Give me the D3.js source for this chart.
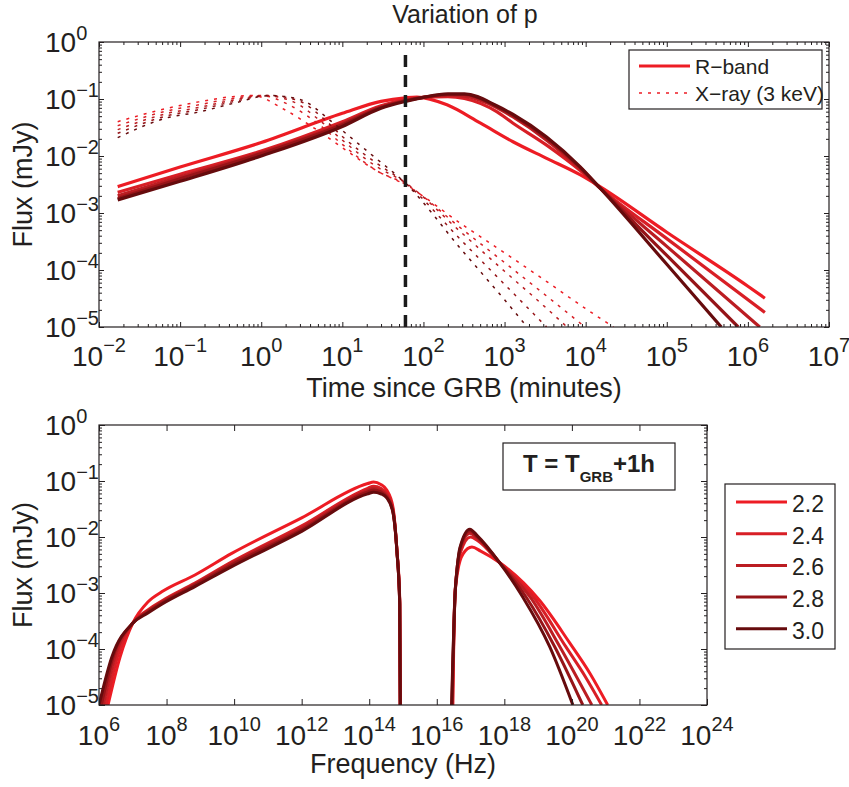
<!DOCTYPE html>
<html><head><meta charset="utf-8">
<script src="https://cdn.jsdelivr.net/npm/d3@7"></script>
<style>
body{margin:0;background:#fff}
svg{display:block}
text{font-family:"Liberation Sans",Arial,Helvetica,sans-serif;fill:#231f20}
</style>
</head><body>
<svg id="chart" width="849" height="787"></svg>
<script>
// ---------------- DATA ----------------
const pLabels = ["2.2", "2.4", "2.6", "2.8", "3.0"];
const lineColors = ["#ed1c24", "#d81f26", "#bb1d22", "#961418", "#660b0d"];

const timeTickExp = [-2, -1, 0, 1, 2, 3, 4, 5, 6, 7];
const fluxTickExp = [0, -1, -2, -3, -4, -5];
const freqTickExp = [6, 8, 10, 12, 14, 16, 18, 20, 22, 24];
const markTime = 60;          // T_GRB + 1h, in minutes
const markFluxRange = [1e-5, 0.65];

// R-band light curves [time (min), flux (mJy)]
const rband22 = [[0.017,2.9e-3],[0.1,6.4e-3],[1,1.72e-2],[10,5.6e-2],[30,9.1e-2],[60,0.105],[83,0.108],[195,7.9e-2],[500,3.8e-2],[1270,1.78e-2],[3300,9.1e-3],[8500,4.7e-3],[15000,2.9e-3],[1e5,4.6e-4],[1e6,5.2e-5],[1.62e6,3.2e-5]];
const rband24 = [[0.017,2.3e-3],[0.1,4.8e-3],[1,1.22e-2],[10,4.0e-2],[30,7.6e-2],[60,9.8e-2],[100,0.107],[200,0.110],[320,0.102],[800,6.0e-2],[1260,3.8e-2],[3300,1.55e-2],[8500,5.6e-3],[15000,2.75e-3],[1e5,3.55e-4],[1.62e6,1.8e-5]];
const rband26 = [[0.017,2.0e-3],[0.1,4.3e-3],[1,1.15e-2],[10,3.7e-2],[30,7.2e-2],[60,9.5e-2],[100,0.107],[200,0.117],[320,0.112],[800,7.1e-2],[1260,4.9e-2],[3300,1.9e-2],[8500,6.0e-3],[15000,2.75e-3],[1e5,2.6e-4],[1.4e6,1e-5]];
const rband28 = [[0.017,1.8e-3],[0.1,4.0e-3],[1,1.1e-2],[10,3.55e-2],[30,7.1e-2],[60,9.3e-2],[100,0.107],[200,0.120],[320,0.120],[800,7.4e-2],[1260,5.2e-2],[3300,2.05e-2],[8500,6.3e-3],[15000,2.75e-3],[1e5,1.8e-4],[7.6e5,1e-5]];
const rband30 = [[0.017,1.7e-3],[0.1,3.6e-3],[1,1.0e-2],[10,3.3e-2],[30,6.9e-2],[60,9.1e-2],[100,0.107],[200,0.123],[320,0.123],[800,7.6e-2],[1260,5.4e-2],[3300,2.15e-2],[8500,6.5e-3],[15000,2.75e-3],[1e5,1.26e-4],[4.7e5,1e-5]];

// X-ray (3 keV) light curves [time (min), flux (mJy)]
const xray22 = [[0.017,4.0e-2],[0.07,6.9e-2],[0.17,8.9e-2],[0.44,0.110],[0.8,0.115],[1.8,6.9e-2],[4.8,2.9e-2],[10,1.4e-2],[26,5.6e-3],[58,3.2e-3],[300,6.3e-4],[1000,2.0e-4],[3000,6.9e-5],[10000,2.1e-5],[22000,1e-5]];
const xray24 = [[0.017,3.4e-2],[0.07,6.2e-2],[0.17,7.9e-2],[0.44,0.102],[1.0,0.115],[2.2,7.9e-2],[5,3.7e-2],[10,1.6e-2],[26,5.6e-3],[58,3.3e-3],[300,5.2e-4],[1000,1.35e-4],[3000,3.9e-5],[9800,1e-5]];
const xray26 = [[0.017,2.9e-2],[0.07,5.6e-2],[0.17,7.1e-2],[0.44,9.5e-2],[1.1,0.115],[2.5,8.9e-2],[5.5,4.0e-2],[10,1.9e-2],[26,6.6e-3],[58,3.5e-3],[300,4.4e-4],[1000,9.5e-5],[3000,2.4e-5],[5900,1e-5]];
const xray28 = [[0.017,2.5e-2],[0.07,5.1e-2],[0.17,6.5e-2],[0.44,8.9e-2],[1.2,0.115],[2.8,9.5e-2],[6,4.4e-2],[10,2.2e-2],[26,7.6e-3],[58,3.5e-3],[300,3.2e-4],[1000,5.6e-5],[3300,1e-5]];
const xray30 = [[0.017,2.1e-2],[0.07,4.7e-2],[0.17,5.9e-2],[0.44,8.3e-2],[1.3,0.115],[3,9.8e-2],[7.4,4.0e-2],[10,2.8e-2],[26,9.1e-3],[58,3.5e-3],[300,2.2e-4],[1000,3.0e-5],[1900,1e-5]];

// Spectra at T_GRB+1h [frequency (Hz), flux (mJy)] : radio-optical part and X-ray part
const specLow22 = [[1.85e6,1e-5],[4.2e6,7.2e-5],[1e7,2.9e-4],[2.8e7,6.9e-4],[7.2e7,1.05e-3],[6.9e8,2.1e-3],[8.5e9,5.1e-3],[1e12,2.2e-2],[9e13,9.0e-2],[1.35e14,9.6e-2],[2.2e14,8.7e-2],[3.3e14,6.9e-2],[5e14,3.5e-2],[6.6e14,5.9e-3],[8e14,7.9e-4],[8.3e14,1e-5]];
const specLow24 = [[1.6e6,1e-5],[3.5e6,7.2e-5],[1e7,2.9e-4],[2.8e7,5.0e-4],[7.2e7,7.2e-4],[6.9e8,1.5e-3],[8.5e9,3.6e-3],[1e12,1.58e-2],[9e13,7.4e-2],[1.35e14,8.1e-2],[2.2e14,7.4e-2],[3.3e14,6.0e-2],[5e14,3.2e-2],[6.6e14,5.8e-3],[8e14,6.9e-4],[8.3e14,1e-5]];
const specLow26 = [[1.35e6,1e-5],[2.95e6,7.2e-5],[1e7,2.9e-4],[2.8e7,4.8e-4],[7.2e7,6.9e-4],[6.9e8,1.45e-3],[8.5e9,3.4e-3],[1e12,1.45e-2],[9e13,6.8e-2],[1.35e14,7.4e-2],[2.2e14,6.8e-2],[3.3e14,5.6e-2],[5e14,3.0e-2],[6.6e14,5.7e-3],[8e14,6.6e-4],[8.3e14,1e-5]];
const specLow28 = [[1.17e6,1e-5],[2.6e6,7.2e-5],[1e7,2.9e-4],[2.8e7,4.6e-4],[7.2e7,6.6e-4],[6.9e8,1.38e-3],[8.5e9,3.2e-3],[1e12,1.35e-2],[9e13,6.4e-2],[1.35e14,6.9e-2],[2.2e14,6.4e-2],[3.3e14,5.2e-2],[5e14,2.9e-2],[6.6e14,5.6e-3],[8e14,6.5e-4],[8.3e14,1e-5]];
const specLow30 = [[1e6,1e-5],[2.4e6,7.2e-5],[1e7,2.9e-4],[2.8e7,4.4e-4],[7.2e7,6.3e-4],[6.9e8,1.3e-3],[8.5e9,2.95e-3],[1e12,1.26e-2],[9e13,5.9e-2],[1.35e14,6.3e-2],[2.2e14,5.9e-2],[3.3e14,5.0e-2],[5e14,2.8e-2],[6.6e14,5.6e-3],[8e14,6.3e-4],[8.3e14,1e-5]];

const specHigh22 = [[3.0e16,1e-5],[3.4e16,7.9e-4],[4.2e16,2.5e-3],[6.0e16,5.0e-3],[1.1e17,6.6e-3],[2.0e17,5.6e-3],[7.2e17,3.5e-3],[1.1e19,7.4e-4],[8.5e19,1.3e-4],[3.4e20,3.7e-5],[1.15e21,1e-5]];
const specHigh24 = [[2.9e16,1e-5],[3.45e16,8.9e-4],[4.0e16,2.5e-3],[5.2e16,5.6e-3],[1.0e17,1.0e-2],[1.6e17,8.7e-3],[7.2e17,3.5e-3],[8e18,7.9e-4],[6.6e19,1.1e-4],[2.5e20,3.2e-5],[7.6e20,1e-5]];
const specHigh26 = [[2.85e16,1e-5],[3.5e16,1.0e-3],[3.9e16,2.4e-3],[5e16,6.0e-3],[9.5e16,1.17e-2],[1.6e17,9.5e-3],[7.2e17,3.5e-3],[6.3e18,7.9e-4],[4.4e19,1.1e-4],[3.9e20,1e-5]];
const specHigh28 = [[2.8e16,1e-5],[3.5e16,1.05e-3],[3.9e16,2.35e-3],[4.9e16,6.2e-3],[9.5e16,1.29e-2],[1.6e17,1.0e-2],[7.2e17,3.5e-3],[4.5e18,8.3e-4],[3.1e19,1.1e-4],[2.1e20,1e-5]];
const specHigh30 = [[2.75e16,1e-5],[3.5e16,1.0e-3],[3.9e16,2.3e-3],[4.8e16,6.3e-3],[9.5e16,1.38e-2],[1.6e17,1.05e-2],[7.2e17,3.5e-3],[3.5e18,8.5e-4],[2.2e19,1.1e-4],[1.07e20,1e-5]];

const rbandSeries = [rband22, rband24, rband26, rband28, rband30];
const xraySeries = [xray22, xray24, xray26, xray28, xray30];
const specLowSeries = [specLow22, specLow24, specLow26, specLow28, specLow30];
const specHighSeries = [specHigh22, specHigh24, specHigh26, specHigh28, specHigh30];

// ---------------- DRAWING ----------------
const svg = d3.select("#chart");
const INK = "#231f20";

const boxT = {x0: 99, x1: 829, y0: 42, y1: 327};
const boxB = {x0: 99, x1: 707, y0: 425, y1: 705};

const xT = d3.scaleLog().domain([1e-2, 1e7]).range([boxT.x0, boxT.x1]);
const yT = d3.scaleLog().domain([1e-5, 1]).range([boxT.y1, boxT.y0]);
const xB = d3.scaleLog().domain([1e6, 1e24]).range([boxB.x0, boxB.x1]);
const yB = d3.scaleLog().domain([1e-5, 1]).range([boxB.y1, boxB.y0]);

function minorsFor(expLo, expHi) {
  const out = [];
  for (let e = expLo; e < expHi; e++) for (let m = 2; m <= 9; m++) out.push(m * Math.pow(10, e));
  return out;
}

function styleAxis(g) {
  g.select(".domain").remove();
  g.selectAll("line").attr("stroke", INK).attr("stroke-width", 1);
  g.selectAll("text").remove();
}

function drawFrame(box, x, y, xMajor, xMinor, yMajor, yMinor, majorLen) {
  const g = svg.append("g");
  const mk = (axisFn, scale, vals, len, tr) => {
    g.append("g").attr("transform", tr)
      .call(axisFn(scale).tickValues(vals).tickSize(-len).tickFormat(""))
      .call(styleAxis);
  };
  mk(d3.axisBottom, x, xMajor, majorLen, `translate(0,${box.y1})`);
  mk(d3.axisTop, x, xMajor, majorLen, `translate(0,${box.y0})`);
  if (xMinor.length) {
    mk(d3.axisBottom, x, xMinor, 3, `translate(0,${box.y1})`);
    mk(d3.axisTop, x, xMinor, 3, `translate(0,${box.y0})`);
  }
  mk(d3.axisLeft, y, yMajor, majorLen, `translate(${box.x0},0)`);
  mk(d3.axisRight, y, yMajor, majorLen, `translate(${box.x1},0)`);
  mk(d3.axisLeft, y, yMinor, 3, `translate(${box.x0},0)`);
  mk(d3.axisRight, y, yMinor, 3, `translate(${box.x1},0)`);
  g.append("rect").attr("x", box.x0).attr("y", box.y0)
    .attr("width", box.x1 - box.x0).attr("height", box.y1 - box.y0)
    .attr("fill", "none").attr("stroke", INK).attr("stroke-width", 1.2);
}

function expText(sel, e) {
  sel.append("tspan").text("10");
  return sel.append("tspan").attr("font-size", 20)
    .text(e < 0 ? "\u2212" + (-e) : String(e));
}

function xLabels(x, exps, baseY) {
  exps.forEach(e => {
    const t = svg.append("text").attr("x", x(Math.pow(10, e))).attr("y", baseY)
      .attr("text-anchor", "middle").attr("font-size", 28);
    expText(t, e).attr("dy", -14);
  });
}
function yLabels(y, exps, leftX) {
  exps.forEach(e => {
    const t = svg.append("text").attr("x", leftX).attr("y", y(Math.pow(10, e)) + 10)
      .attr("text-anchor", "start").attr("font-size", 28);
    expText(t, e).attr("dy", -12);
  });
}

// clip paths
const defs = svg.append("defs");
defs.append("clipPath").attr("id", "clipTop").append("rect")
  .attr("x", boxT.x0).attr("y", boxT.y0).attr("width", boxT.x1 - boxT.x0).attr("height", boxT.y1 - boxT.y0);
defs.append("clipPath").attr("id", "clipBot").append("rect")
  .attr("x", boxB.x0).attr("y", boxB.y0).attr("width", boxB.x1 - boxB.x0).attr("height", boxB.y1 - boxB.y0);

// ---- Top panel ----
const lineT = d3.line().x(d => xT(d[0])).y(d => yT(d[1])).curve(d3.curveMonotoneX);
const gTop = svg.append("g").attr("clip-path", "url(#clipTop)");
pLabels.forEach((p, i) => {
  gTop.append("path").datum(rbandSeries[i]).attr("d", lineT)
    .attr("fill", "none").attr("stroke", lineColors[i]).attr("stroke-width", 3.2)
    .attr("stroke-linejoin", "round");
  gTop.append("path").datum(xraySeries[i]).attr("d", lineT)
    .attr("fill", "none").attr("stroke", lineColors[i]).attr("stroke-width", 1.5)
    .attr("stroke-dasharray", "3,6");
});
gTop.append("line")
  .attr("x1", xT(markTime)).attr("x2", xT(markTime))
  .attr("y1", yT(markFluxRange[0])).attr("y2", yT(markFluxRange[1]))
  .attr("stroke", "#1a1a1a").attr("stroke-width", 3.5).attr("stroke-dasharray", "12,8");

drawFrame(boxT, xT, yT,
  timeTickExp.map(e => Math.pow(10, e)), minorsFor(-2, 7),
  fluxTickExp.map(e => Math.pow(10, e)), minorsFor(-5, 0), 5);
xLabels(xT, timeTickExp, boxT.y1 + 39);
yLabels(yT, fluxTickExp, 45);

svg.append("text").attr("x", 465).attr("y", 23).attr("text-anchor", "middle")
  .attr("font-size", 25).text("Variation of p");
svg.append("text").attr("x", (boxT.x0 + boxT.x1) / 2).attr("y", 397).attr("text-anchor", "middle")
  .attr("font-size", 27).text("Time since GRB (minutes)");
svg.append("text").attr("transform", `translate(32,${(boxT.y0 + boxT.y1) / 2}) rotate(-90)`)
  .attr("text-anchor", "middle").attr("font-size", 27).text("Flux (mJy)");

// top legend
const lg = svg.append("g");
lg.append("rect").attr("x", 629).attr("y", 50).attr("width", 193).attr("height", 59)
  .attr("fill", "#fff").attr("stroke", INK).attr("stroke-width", 1.2);
lg.append("line").attr("x1", 639).attr("x2", 690).attr("y1", 66).attr("y2", 66)
  .attr("stroke", lineColors[0]).attr("stroke-width", 3.2);
lg.append("line").attr("x1", 639).attr("x2", 690).attr("y1", 93).attr("y2", 93)
  .attr("stroke", lineColors[0]).attr("stroke-width", 1.5).attr("stroke-dasharray", "3,6");
lg.append("text").attr("x", 695).attr("y", 74).attr("font-size", 21).text("R\u2212band");
lg.append("text").attr("x", 695).attr("y", 101).attr("font-size", 21).text("X\u2212ray (3 keV)");

// ---- Bottom panel ----
const lineB = d3.line().x(d => xB(d[0])).y(d => yB(d[1])).curve(d3.curveMonotoneX);
const gBot = svg.append("g").attr("clip-path", "url(#clipBot)");
pLabels.forEach((p, i) => {
  [specLowSeries[i], specHighSeries[i]].forEach(seg => {
    gBot.append("path").datum(seg).attr("d", lineB)
      .attr("fill", "none").attr("stroke", lineColors[i]).attr("stroke-width", 3)
      .attr("stroke-linejoin", "round");
  });
});

drawFrame(boxB, xB, yB,
  freqTickExp.map(e => Math.pow(10, e)), [],
  fluxTickExp.map(e => Math.pow(10, e)), minorsFor(-5, 0), 6);
xLabels(xB, freqTickExp, boxB.y1 + 40);
yLabels(yB, fluxTickExp, 45);

svg.append("text").attr("x", (boxB.x0 + boxB.x1) / 2).attr("y", 773).attr("text-anchor", "middle")
  .attr("font-size", 27).text("Frequency (Hz)");
svg.append("text").attr("transform", `translate(32,${(boxB.y0 + boxB.y1) / 2}) rotate(-90)`)
  .attr("text-anchor", "middle").attr("font-size", 27).text("Flux (mJy)");

// annotation
svg.append("rect").attr("x", 503).attr("y", 443).attr("width", 172).attr("height", 47)
  .attr("fill", "#fff").attr("stroke", INK).attr("stroke-width", 1.2);
const ann = svg.append("text").attr("x", 589).attr("y", 472).attr("text-anchor", "middle")
  .attr("font-size", 24).attr("font-weight", "bold");
ann.append("tspan").text("T = T");
ann.append("tspan").attr("font-size", 15).attr("dy", 10).text("GRB");
ann.append("tspan").attr("dy", -10).text("+1h");

// bottom legend
const lb = svg.append("g");
lb.append("rect").attr("x", 725).attr("y", 484).attr("width", 110).attr("height", 165)
  .attr("fill", "#fff").attr("stroke", INK).attr("stroke-width", 1.2);
pLabels.forEach((p, i) => {
  const yy = 502 + i * 31.7;
  lb.append("line").attr("x1", 736).attr("x2", 787).attr("y1", yy).attr("y2", yy)
    .attr("stroke", lineColors[i]).attr("stroke-width", 3);
  lb.append("text").attr("x", 792).attr("y", yy + 10).attr("font-size", 23).text(p);
});
</script>
</body></html>
